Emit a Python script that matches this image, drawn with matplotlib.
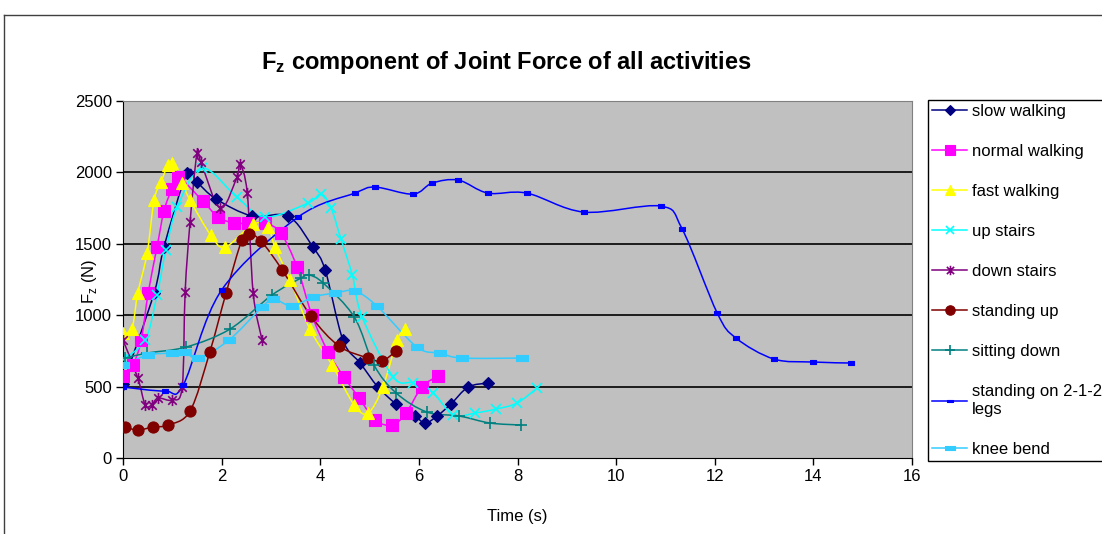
import matplotlib
matplotlib.use('Agg')
import matplotlib.pyplot as plt
import numpy as np
from matplotlib.path import Path
from matplotlib.patches import PathPatch
from matplotlib.lines import Line2D

plt.rcParams['font.family'] = ['Liberation Sans', 'DejaVu Sans']
plt.rcParams['mathtext.fontset'] = 'custom'
plt.rcParams['mathtext.rm'] = 'Liberation Sans'
plt.rcParams['mathtext.bf'] = 'Liberation Sans:bold'

# data (time in s, Fz in N)
slow_t = [0, 0.63, 0.83, 1.3, 1.5, 1.89, 2.62, 3.35, 3.85, 4.1, 4.46, 4.81, 5.17, 5.54,
          5.92, 6.13, 6.37, 6.65, 7.0, 7.4]
slow_f = [520, 1155, 1477, 1995, 1932, 1813, 1694, 1694, 1477, 1316, 826, 665, 497, 378,
          294, 245, 294, 378, 497, 525]

normal_t = [0, 0.2, 0.37, 0.51, 0.69, 0.83, 0.99, 1.12, 1.62, 1.93, 2.25, 2.54, 2.88, 3.2,
            3.53, 3.83, 4.16, 4.48, 4.79, 5.11, 5.46, 5.74, 6.06, 6.39]
normal_f = [574, 651, 826, 1155, 1477, 1729, 1883, 1967, 1799, 1687, 1645, 1645, 1645, 1575,
            1337, 1000, 742, 567, 420, 266, 231, 315, 497, 574]

fast_t = [0, 0.18, 0.3, 0.49, 0.63, 0.77, 0.91, 0.99, 1.2, 1.36, 1.78, 2.07, 2.64, 2.94,
          3.08, 3.39, 3.79, 4.24, 4.69, 4.97, 5.27, 5.56, 5.72]
fast_f = [875, 903, 1155, 1435, 1806, 1932, 2051, 2065, 1925, 1806, 1561, 1477, 1638, 1617,
          1477, 1246, 903, 651, 371, 315, 497, 826, 903]

up_t = [0, 0.45, 0.69, 0.87, 1.1, 1.6, 2.31, 2.88, 3.75, 4.02, 4.22, 4.42, 4.65, 4.85,
        5.48, 5.88, 6.29, 6.7, 7.14, 7.57, 7.99, 8.4]
up_f = [690, 826, 1141, 1456, 1757, 2030, 1827, 1687, 1785, 1848, 1750, 1533, 1281, 987,
        567, 525, 455, 300, 315, 343, 385, 490]

down_t = [0, 0.3, 0.45, 0.58, 0.71, 1.0, 1.2, 1.26, 1.36, 1.5, 1.58, 1.97, 2.31, 2.37,
          2.52, 2.64, 2.82]
down_f = [826, 560, 371, 371, 420, 406, 497, 1162, 1652, 2135, 2072, 1750, 1967, 2058,
          1855, 1155, 826]

standup_t = [0.04, 0.3, 0.61, 0.91, 1.36, 1.76, 2.09, 2.41, 2.56, 2.8, 3.23, 3.81, 4.38,
             4.97, 5.25, 5.54]
standup_f = [217, 196, 217, 231, 329, 742, 1155, 1526, 1568, 1519, 1316, 994, 784, 700,
             679, 749]

sit_t = [0.04, 0.49, 1.28, 2.17, 3.02, 3.61, 3.77, 4.06, 4.69, 5.09, 5.54, 6.16, 6.82,
         7.44, 8.07]
sit_f = [700, 735, 777, 903, 1141, 1260, 1281, 1225, 987, 651, 455, 322, 294, 245, 231]

legs_t = [0, 0.85, 1.22, 2.0, 3.55, 4.7, 5.11, 5.88, 6.27, 6.8, 7.4, 8.19, 9.35, 10.9,
          11.34, 12.05, 12.43, 13.2, 14.0, 14.77]
legs_f = [497, 469, 511, 1176, 1687, 1855, 1897, 1848, 1925, 1946, 1855, 1855, 1722, 1764,
          1603, 1015, 840, 693, 672, 665]

knee_t = [0, 0.5, 1.0, 1.26, 1.53, 2.15, 2.82, 3.05, 3.43, 3.85, 4.3, 4.7, 5.15, 5.96,
          6.43, 6.87, 8.1]
knee_f = [651, 721, 735, 742, 700, 826, 1057, 1113, 1064, 1127, 1155, 1169, 1064, 777,
          735, 700, 700]

labels = ['slow walking', 'normal walking', 'fast walking', 'up stairs', 'down stairs',
          'standing up', 'sitting down', 'standing on 2-1-2\nlegs', 'knee bend']

# excel-like marker shapes
ASTER = Path([(-1, -1), (1, 1), (-1, 1), (1, -1), (0, -1.3), (0, 1.3)],
             [Path.MOVETO, Path.LINETO, Path.MOVETO, Path.LINETO, Path.MOVETO, Path.LINETO])
WIDE = Path([(-1, -0.5), (1, -0.5), (1, 0.5), (-1, 0.5), (-1, -0.5)],
            [Path.MOVETO, Path.LINETO, Path.LINETO, Path.LINETO, Path.CLOSEPOLY])

styles = [
    (slow_t, slow_f, '#000080', 'D', 6, 0.8),
    (normal_t, normal_f, '#FF00FF', 's', 8, 0.8),
    (fast_t, fast_f, '#FFFF00', '^', 8, 0.8),
    (up_t, up_f, '#00FFFF', 'x', 7, 1.2),
    (down_t, down_f, '#800080', ASTER, 8, 1.2),
    (standup_t, standup_f, '#800000', 'o', 8, 0.8),
    (sit_t, sit_f, '#008080', '+', 9, 1.2),
    (legs_t, legs_f, '#0000FF', WIDE, 5, 0.8),
    (knee_t, knee_f, '#33CCFF', WIDE, 8, 0.8),
]


def smooth_path(xs, ys):
    # cubic bezier through the points, like excel's smoothed line
    p = np.column_stack([xs, ys]).astype(float)
    n = len(p)
    verts = [p[0]]
    codes = [Path.MOVETO]
    for i in range(n - 1):
        p0 = p[i - 1] if i > 0 else p[i]
        p3 = p[i + 2] if i + 2 < n else p[i + 1]
        verts += [p[i] + (p[i + 1] - p0) / 6, p[i + 1] - (p3 - p[i]) / 6, p[i + 1]]
        codes += [Path.CURVE4] * 3
    return Path(verts, codes)


fig = plt.figure(figsize=(11.02, 5.34), dpi=100)
ax = fig.add_axes([123 / 1102, 1 - 458 / 534, 789 / 1102, 357 / 534])
ax.set_facecolor('#C0C0C0')

handles = []
for (t, f, c, m, ms, mew), lab in zip(styles, labels):
    ax.add_patch(PathPatch(smooth_path(t, f), facecolor='none', edgecolor=c, lw=1.1, zorder=3))
    ax.plot(t, f, ls='none', marker=m, ms=ms, color=c, mec=c, mew=mew, zorder=4)
    handles.append(Line2D([0], [0], color=c, lw=1.1, marker=m, ms=ms * 0.85, mec=c, mfc=c,
                          mew=mew))

ax.set_xlim(0, 16)
ax.set_ylim(0, 2500)
ax.set_xticks(range(0, 17, 2))
ax.set_yticks(range(0, 2501, 500))
for y in range(500, 2500, 500):
    ax.axhline(y, color='black', lw=1.2, zorder=1)
for s in ('top', 'right'):
    ax.spines[s].set_color('#808080')
for s in ('left', 'bottom'):
    ax.spines[s].set_color('black')
ax.tick_params(direction='out', length=5, width=1, labelsize=12, pad=3)

ax.set_xlabel('Time (s)', fontsize=12, labelpad=18)
ax.set_ylabel(r'F$_\mathregular{z}$ (N)', fontsize=12)
ax.yaxis.set_label_coords(-0.03, 0.495)
fig.text(506 / 1102, 1 - 63 / 534, r'$\mathbf{F_z}$ component of Joint Force of all activities',
         ha='center', va='center', fontsize=17, fontweight='bold')

leg = fig.legend(handles, labels, loc='upper left', bbox_to_anchor=(928 / 1102, 1 - 100 / 534),
                 fontsize=12, frameon=True, fancybox=False, edgecolor='black', framealpha=1,
                 labelspacing=1.5, handlelength=2.1, handletextpad=0.3, borderpad=0.25,
                 borderaxespad=0)
leg.get_frame().set_linewidth(1)

# chart area border
fig.add_artist(Line2D([4 / 1102, 1], [1 - 15 / 534] * 2, color='#404040', lw=1))
fig.add_artist(Line2D([4 / 1102] * 2, [0, 1 - 15 / 534], color='#404040', lw=1))

fig.savefig('out.png', dpi=100)
